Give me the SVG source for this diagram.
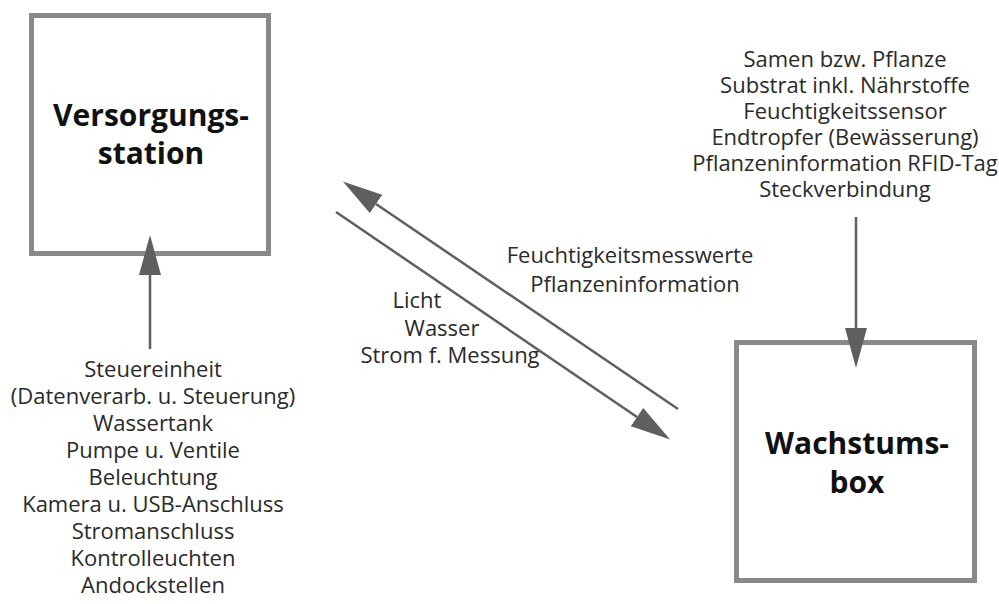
<svg xmlns="http://www.w3.org/2000/svg" width="999" height="604" viewBox="0 0 999 604">
<defs>
<style>
.box{fill:#fff;stroke:#898989;stroke-width:5}
.title{font-family:"Open Sans","Noto Sans","Liberation Sans",sans-serif;font-weight:bold;font-size:30px;fill:#111;text-anchor:middle}
.lbl{font-family:"Open Sans","Noto Sans","Liberation Sans",sans-serif;font-size:22px;fill:#2a2a2a}
.mid{text-anchor:middle}
.conn{stroke:#5f5f5f;stroke-width:2.5;fill:none}
</style>
<marker id="ah" markerUnits="userSpaceOnUse" markerWidth="40" markerHeight="22" refX="0" refY="11" orient="auto" viewBox="0 0 40 22">
<path d="M0,0 L40,11 L0,22 z" fill="#5f5f5f"/>
</marker>
</defs>
<rect width="999" height="604" fill="#fff"/>
<g id="versorgungsstation">
<rect class="box" x="31.5" y="15.5" width="237" height="238"/>
<text class="title" x="151" y="126">Versorgungs-</text>
<text class="title" x="151" y="164">station</text>
</g>
<g id="wachstumsbox">
<rect class="box" x="736.5" y="342.5" width="238" height="238"/>
<text class="title" x="857" y="454">Wachstums-</text>
<text class="title" x="857" y="493">box</text>
</g>
<g id="label-versorgung">
<text class="lbl mid" x="153" y="377">Steuereinheit</text>
<text class="lbl mid" x="153" y="404">(Datenverarb. u. Steuerung)</text>
<text class="lbl mid" x="153" y="431">Wassertank</text>
<text class="lbl mid" x="153" y="458">Pumpe u. Ventile</text>
<text class="lbl mid" x="153" y="485">Beleuchtung</text>
<text class="lbl mid" x="153" y="512">Kamera u. USB-Anschluss</text>
<text class="lbl mid" x="153" y="539">Stromanschluss</text>
<text class="lbl mid" x="153" y="566">Kontrolleuchten</text>
<text class="lbl mid" x="153" y="593">Andockstellen</text>
</g>
<g id="label-wachstum">
<text class="lbl mid" x="845" y="67">Samen bzw. Pflanze</text>
<text class="lbl mid" x="845" y="93">Substrat inkl. Nährstoffe</text>
<text class="lbl mid" x="845" y="119">Feuchtigkeitssensor</text>
<text class="lbl mid" x="845" y="145">Endtropfer (Bewässerung)</text>
<text class="lbl mid" x="845" y="171">Pflanzeninformation RFID-Tag</text>
<text class="lbl mid" x="845" y="197">Steckverbindung</text>
</g>
<g id="label-rueck">
<text class="lbl mid" x="630" y="263">Feuchtigkeitsmesswerte</text>
<text class="lbl mid" x="635" y="292">Pflanzeninformation</text>
</g>
<g id="label-hin">
<text class="lbl mid" x="417" y="308">Licht</text>
<text class="lbl mid" x="442" y="336">Wasser</text>
<text class="lbl mid" x="450" y="363">Strom f. Messung</text>
</g>
<g id="connectors">
<line class="conn" x1="150" y1="349" x2="150" y2="275" marker-end="url(#ah)"/>
<line class="conn" x1="856" y1="217" x2="856" y2="328" marker-end="url(#ah)"/>
<line class="conn" x1="678" y1="409" x2="376" y2="204" marker-end="url(#ah)"/>
<line class="conn" x1="336" y1="212" x2="637" y2="417" marker-end="url(#ah)"/>
</g>
</svg>
